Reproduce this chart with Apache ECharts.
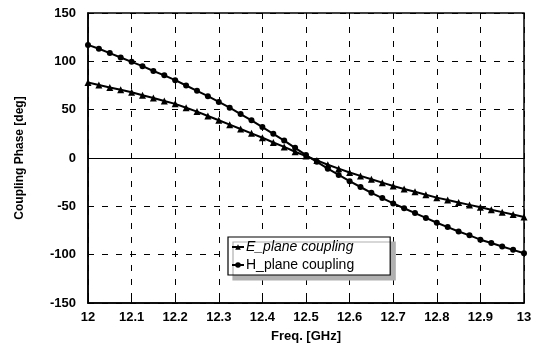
<!DOCTYPE html>
<html><head><meta charset="utf-8">
<script src="https://cdn.jsdelivr.net/npm/echarts@6/dist/echarts.min.js"></script>
<style>html,body{margin:0;padding:0;background:#fff}#c{width:545px;height:352px}</style>
</head><body><div id="c"></div>
<script>
const freq = [12.000,12.025,12.050,12.075,12.100,12.125,12.150,12.175,12.200,12.225,12.250,12.275,12.300,12.325,12.350,12.375,12.400,12.425,12.450,12.475,12.500,12.525,12.550,12.575,12.600,12.625,12.650,12.675,12.700,12.725,12.750,12.775,12.800,12.825,12.850,12.875,12.900,12.925,12.950,12.975,13.000];
const ePlane = [78,75.5,73,70.5,68,65,62,59,56,52,48,43.5,39,34.5,30,25.5,21,16,11.5,6.5,2,-2.5,-7,-11,-15,-18.5,-22,-25.5,-29,-32,-35,-38,-41,-43.5,-46,-48.5,-51,-53.5,-56,-58.5,-61];
const hPlane = [117,113,108.5,104,99.5,95,90,85.5,80.5,75,69.5,64,58,52,45.5,39,32,25,18,10.5,3,-4,-11,-17.5,-24,-30,-36,-41.5,-47,-52,-57,-62,-67,-71.5,-76,-80,-84.5,-88,-91.5,-95,-98.5];
const seriesNames = ['E_plane coupling','H_plane coupling'];
const xTitle = 'Freq. [GHz]';
const yTitle = 'Coupling Phase [deg]';

const font = 'Liberation Sans, Arial, sans-serif';
const chart = echarts.init(document.getElementById('c'), null, {renderer:'canvas'});
chart.setOption({
  animation:false,
  backgroundColor:'#fff',
  grid:{left:88,right:21,top:13,bottom:49,show:true,borderColor:'#000',borderWidth:1.5,containLabel:false},
  legend:{
    left:228, top:237, orient:'vertical', itemGap:4, itemWidth:12, itemHeight:7,
    padding:[3,36,3,3],
    backgroundColor:'#fff', borderColor:'#000', borderWidth:1.2,
    shadowColor:'#b0b0b0', shadowBlur:0, shadowOffsetX:5, shadowOffsetY:5,
    textStyle:{fontFamily:font, fontSize:14, color:'#000', padding:[0,0,0,-3]},
    data:[
      {name:seriesNames[0], textStyle:{fontStyle:'italic'}},
      {name:seriesNames[1]}
    ]
  },
  xAxis:{
    type:'value', min:12, max:13, interval:0.1,
    name:xTitle, nameLocation:'middle', nameGap:27,
    nameTextStyle:{fontFamily:font, fontSize:13, fontWeight:'bold', color:'#000'},
    axisLine:{onZero:false, lineStyle:{color:'#000', width:1.5}},
    axisTick:{inside:true, length:4, lineStyle:{color:'#000'}},
    axisLabel:{fontFamily:font, fontSize:13, fontWeight:'bold', color:'#000', margin:8,
      formatter:v=>String(Math.round(v*10)/10)},
    splitLine:{show:true, lineStyle:{color:'#000', type:[6,8], width:1}}
  },
  yAxis:{
    type:'value', min:-150, max:150, interval:50,
    name:yTitle, nameLocation:'middle', nameGap:62, nameRotate:90,
    nameTextStyle:{fontFamily:font, fontSize:12, fontWeight:'bold', color:'#000'},
    axisLine:{lineStyle:{color:'#000', width:1.5}},
    axisTick:{inside:true, length:4, lineStyle:{color:'#000'}},
    axisLabel:{fontFamily:font, fontSize:13, fontWeight:'bold', color:'#000', margin:12},
    splitLine:{show:true, lineStyle:{color:'#000', type:[6,8], width:1}}
  },
  series:[
    {name:seriesNames[0], type:'line', data:freq.map((f,i)=>[f,ePlane[i]]),
     symbol:'triangle', symbolSize:7, showAllSymbol:true,
     lineStyle:{color:'#000', width:2}, itemStyle:{color:'#000'},
     markLine:{silent:true, symbol:'none', label:{show:false},
       lineStyle:{color:'#000', type:'solid', width:1.2}, data:[{yAxis:0}]}},
    {name:seriesNames[1], type:'line', data:freq.map((f,i)=>[f,hPlane[i]]),
     symbol:'circle', symbolSize:6, showAllSymbol:true,
     lineStyle:{color:'#000', width:2}, itemStyle:{color:'#000'}}
  ]
});
</script></body></html>
